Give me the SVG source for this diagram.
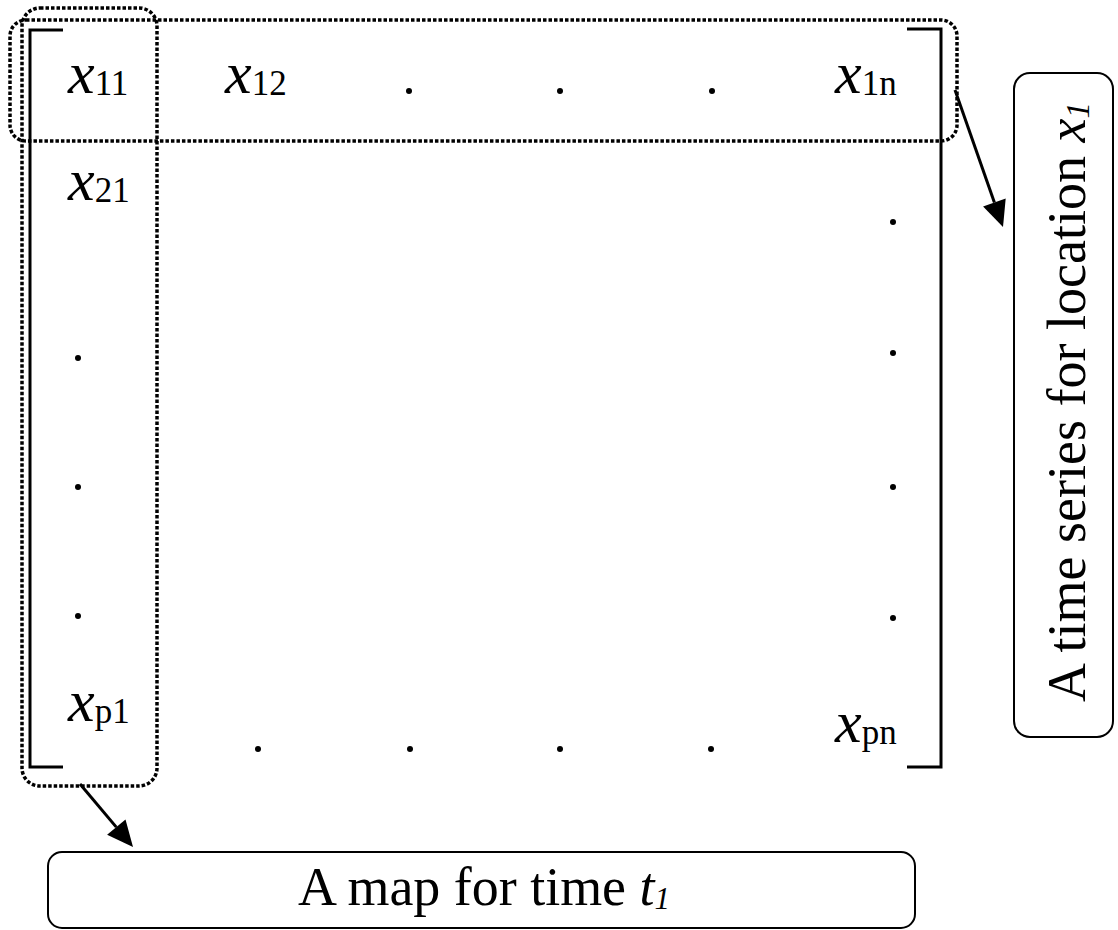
<svg xmlns="http://www.w3.org/2000/svg" width="1118" height="930" viewBox="0 0 1118 930">
<style>
.bracket{fill:none;stroke:#000;stroke-width:3}
.dotted{fill:none;stroke:#000;stroke-width:3.5;stroke-dasharray:3.5 2}
.box{fill:#fff;stroke:#000;stroke-width:2}
.conn{stroke:#000;stroke-width:3;fill:none}
.head{fill:#000}
.v{font-family:"Liberation Serif","Times New Roman",serif;font-style:italic;font-size:60px;fill:#000}
.s{font-family:"Liberation Serif","Times New Roman",serif;font-style:normal;font-size:35px;fill:#000}
.lbl{font-family:"Liberation Serif","Times New Roman",serif;font-size:54px;fill:#000}
.dot{fill:#000}
</style>
<rect width="1118" height="930" fill="#fff"/>
<g id="matrix">
<path class="bracket" d="M63,30 H30 V767 H63"/>
<path class="bracket" d="M907,29 H941 V767 H907"/>
<text class="v" x="68" y="93">x<tspan class="s" dy="2">11</tspan></text>
<text class="v" x="225" y="93">x<tspan class="s" dy="2">12</tspan></text>
<text class="v" x="835" y="93">x<tspan class="s" dy="2">1n</tspan></text>
<text class="v" x="68" y="200">x<tspan class="s" dy="2">21</tspan></text>
<text class="v" x="68" y="721">x<tspan class="s" dy="2">p1</tspan></text>
<text class="v" x="835" y="742">x<tspan class="s" dy="2">pn</tspan></text>
<circle class="dot" cx="409" cy="91" r="3"/>
<circle class="dot" cx="560" cy="91" r="3"/>
<circle class="dot" cx="712" cy="91" r="3"/>
<circle class="dot" cx="78" cy="358" r="3"/>
<circle class="dot" cx="78" cy="487" r="3"/>
<circle class="dot" cx="78" cy="616" r="3"/>
<circle class="dot" cx="893" cy="222" r="3"/>
<circle class="dot" cx="893" cy="353" r="3"/>
<circle class="dot" cx="893" cy="487" r="3"/>
<circle class="dot" cx="893" cy="618" r="3"/>
<circle class="dot" cx="258" cy="749" r="3"/>
<circle class="dot" cx="410" cy="749" r="3"/>
<circle class="dot" cx="560" cy="749" r="3"/>
<circle class="dot" cx="711" cy="749" r="3"/>
</g>
<g id="row-highlight">
<rect class="dotted" x="10" y="20" width="947" height="121" rx="16" ry="16"/>
</g>
<g id="column-highlight">
<rect class="dotted" x="22" y="8" width="135" height="778" rx="18" ry="18"/>
</g>
<g id="time-series-box">
<rect class="box" x="1014" y="73" width="99" height="664" rx="16" ry="16"/>
<text class="lbl" transform="translate(1085,702) rotate(-90)" font-size="57" textLength="600" lengthAdjust="spacingAndGlyphs">A time series for location <tspan font-style="italic">x</tspan><tspan font-style="italic" font-size="33" dy="4">1</tspan></text>
</g>
<g id="map-box">
<rect class="box" x="48" y="852" width="867" height="76" rx="14" ry="14"/>
<text class="lbl" x="298" y="905" textLength="372" lengthAdjust="spacingAndGlyphs">A map for time <tspan font-style="italic">t</tspan><tspan font-style="italic" font-size="31" dy="4">1</tspan></text>
</g>
<g id="connectors">
<line class="conn" x1="955" y1="90" x2="994.4" y2="202.4"/>
<polygon class="head" points="1003,227 983.1,206.4 1005.7,198.4"/>
<line class="conn" x1="80" y1="784" x2="116.3" y2="827.1"/>
<polygon class="head" points="133,847 107.1,834.8 125.5,819.4"/>
</g>
</svg>
